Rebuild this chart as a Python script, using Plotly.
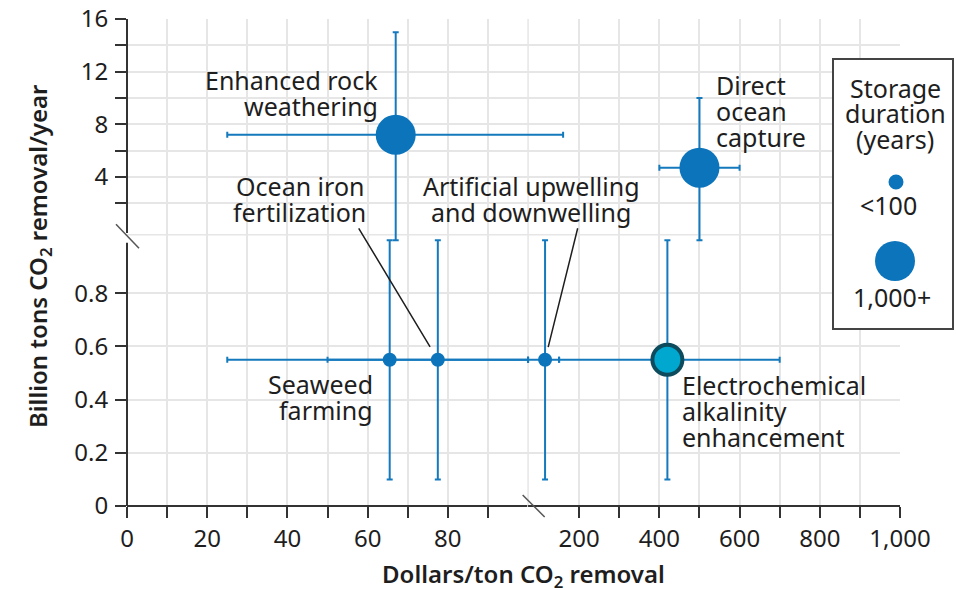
import plotly.graph_objects as go

# ---------------- data ----------------
methods = [
    "Enhanced rock weathering",
    "Direct ocean capture",
    "Seaweed farming",
    "Ocean iron fertilization",
    "Artificial upwelling and downwelling",
    "Electrochemical alkalinity enhancement",
]
cost = [67, 500, 65.5, 77.5, 115, 420]            # dollars / ton CO2
cost_low = [25, 400, 25, 50, 100, 150]
cost_high = [160, 600, 100, 100, 150, 700]
removal = [7.2, 4.7, 0.55, 0.55, 0.55, 0.55]      # billion tons CO2 / year
removal_low = [1.0, 1.0, 0.1, 0.1, 0.1, 0.1]
removal_high = [15, 10, 1.0, 1.0, 1.0, 1.0]
storage = ["1,000+", "1,000+", "<100", "<100", "<100", "1,000+"]

x_major = [0, 20, 40, 60, 80, 200, 400, 600, 800, 1000]
x_major_text = ["0", "20", "40", "60", "80", "200", "400", "600", "800", "1,000"]
x_minor = [10, 30, 50, 70, 90, 300, 500, 700, 900]
y_major = [0, 0.2, 0.4, 0.6, 0.8, 4, 8, 12, 16]
y_major_text = ["0", "0.2", "0.4", "0.6", "0.8", "4", "8", "12", "16"]
y_minor = [2, 6, 10, 14]

# ---------------- broken-axis scales ----------------
X_BREAK, X_GAP, X_FAR = 100, 2.74, 0.1
Y_BREAK, Y_OFF, Y_FAR = 1.0, 1.040, 0.04949


def xmap(v):
    return v if v <= X_BREAK else X_BREAK + X_GAP + (v - X_BREAK) * X_FAR


def ymap(v):
    return v if v <= Y_BREAK else Y_OFF + v * Y_FAR


X_MAX = xmap(1000)
Y_MAX = ymap(16)

# ---------------- styling ----------------
FONT = "Noto Sans"
TXT = "#1e1e1e"
BLUE = "#0b74bb"
BAR = "#1479bd"
HILITE_FILL = "#00a7cf"
HILITE_LINE = "#0e4b5c"
AXIS = "#333333"
GRID = "#e6e6e6"
size_by_storage = {"<100": 14, "1,000+": 40}
highlight = "Electrochemical alkalinity enhancement"

L, R, T, B = 127, 56, 19, 84
W, H = 956, 590
PW, PH = W - L - R, H - T - B


def px(x):
    return (x - L) / PW


def py(y):
    return (H - B - y) / PH


def dx2paper(d):
    return d / X_MAX


def dy2paper(d):
    return d / Y_MAX


fig = go.Figure()

xs = [xmap(c) for c in cost]
ys = [ymap(r) for r in removal]

# error bars (drawn first so every dot sits on top)
fig.add_trace(go.Scatter(
    x=xs, y=ys, mode="markers",
    marker=dict(size=1, color="rgba(0,0,0,0)"),
    error_x=dict(type="data", symmetric=False,
                 array=[xmap(h) - xmap(c) for h, c in zip(cost_high, cost)],
                 arrayminus=[xmap(c) - xmap(l) for c, l in zip(cost, cost_low)],
                 color=BAR, thickness=2, width=3),
    error_y=dict(type="data", symmetric=False,
                 array=[ymap(h) - ymap(r) for h, r in zip(removal_high, removal)],
                 arrayminus=[ymap(r) - ymap(l) for r, l in zip(removal, removal_low)],
                 color=BAR, thickness=2, width=3),
    hoverinfo="skip", showlegend=False,
))

idx_main = [i for i, m in enumerate(methods) if m != highlight]
idx_hi = [i for i, m in enumerate(methods) if m == highlight]

fig.add_trace(go.Scatter(
    x=[xs[i] for i in idx_main], y=[ys[i] for i in idx_main],
    mode="markers", text=[methods[i] for i in idx_main],
    marker=dict(size=[size_by_storage[storage[i]] for i in idx_main],
                color=BLUE, opacity=1, line=dict(width=0)),
    showlegend=False,
))
fig.add_trace(go.Scatter(
    x=[xs[i] for i in idx_hi], y=[ys[i] for i in idx_hi],
    mode="markers", text=[methods[i] for i in idx_hi],
    marker=dict(size=30, color=HILITE_FILL, opacity=1,
                line=dict(width=4, color=HILITE_LINE)),
    showlegend=False,
))

# ---------------- point labels ----------------
label_lines = {
    0: (["Enhanced rock", "weathering"], "right", -16, [55, 29]),
    1: (["Direct", "ocean", "capture"], "left", 15, [83, 57, 31]),
    2: (["Seaweed", "farming"], "right", -15, [-24, -50]),
    3: (["Ocean iron", "fertilization"], "center", -138, [174, 148]),
    4: (["Artificial upwelling", "and downwelling"], "center", -14, [174, 148]),
    5: (["Electrochemical", "alkalinity", "enhancement"], "left", 13, [-25, -51, -77]),
}
LABEL_SIZE = 25
annotations = []
for i, (lines, anchor, dx, dys) in label_lines.items():
    for line, dy in zip(lines, dys):
        annotations.append(dict(
            x=xs[i], y=ys[i], xref="x", yref="y", text=line, showarrow=False,
            xanchor=anchor, yanchor="middle", xshift=dx, yshift=dy,
            font=dict(family=FONT, size=LABEL_SIZE, color=TXT),
        ))

# leader lines from labels to their points
for i, ax, ay, so in [(3, -80, -133, 15), (4, 33, -133, 13)]:
    annotations.append(dict(
        x=xs[i], y=ys[i], xref="x", yref="y", text="", showarrow=True,
        arrowhead=0, arrowwidth=1.5, arrowcolor=TXT, ax=ax, ay=ay, standoff=so,
    ))

# axis titles
annotations.append(dict(
    x=px(523), y=py(575), xref="paper", yref="paper", showarrow=False,
    text="Dollars/ton CO<sub>2</sub> removal", xanchor="center", yanchor="middle",
    font=dict(family=FONT, size=24, color=TXT, weight=600),
))
annotations.append(dict(
    x=px(39), y=py(256), xref="paper", yref="paper", showarrow=False,
    text="Billion tons CO<sub>2</sub> removal/year", textangle=-90,
    xanchor="center", yanchor="middle",
    font=dict(family=FONT, size=24, color=TXT, weight=600),
))

# legend text
for txt, cx, cy in [("Storage", 895, 88), ("duration", 895, 113), ("(years)", 895, 139),
                    ("<100", 888, 205), ("1,000+", 892, 297)]:
    annotations.append(dict(
        x=px(cx), y=py(cy), xref="paper", yref="paper", text=txt, showarrow=False,
        xanchor="center", yanchor="middle",
        font=dict(family=FONT, size=LABEL_SIZE, color=TXT),
    ))

# ---------------- shapes: axis lines, breaks, extra grid, legend ----------------
axis_line = dict(color=AXIS, width=2)
brk_line = dict(color="#555555", width=1.5)
shapes = [
    # extra grid lines at the breaks
    dict(type="line", xref="x", yref="y", x0=xmap(100), x1=xmap(100), y0=0, y1=Y_MAX,
         line=dict(color=GRID, width=1.5), layer="below"),
    dict(type="line", xref="x", yref="y", x0=0, x1=X_MAX,
         y0=(Y_BREAK + Y_OFF) / 2, y1=(Y_BREAK + Y_OFF) / 2,
         line=dict(color=GRID, width=1.5), layer="below"),
    # y axis, two pieces
    dict(type="line", xref="paper", yref="paper", x0=0, x1=0,
         y0=0, y1=dy2paper(0.99), line=axis_line),
    dict(type="line", xref="paper", yref="paper", x0=0, x1=0,
         y0=dy2paper(1.027), y1=1, line=axis_line),
    # x axis, two pieces
    dict(type="line", xref="paper", yref="paper", x0=0, x1=dx2paper(99.8),
         y0=0, y1=0, line=axis_line),
    dict(type="line", xref="paper", yref="paper", x0=dx2paper(xmap(100)), x1=1,
         y0=0, y1=0, line=axis_line),
    # break marks
    dict(type="line", xref="paper", yref="paper", xsizemode="pixel", ysizemode="pixel",
         xanchor=0, yanchor=dy2paper(1.015), x0=-11, x1=12, y0=12, y1=-12,
         line=brk_line),
    dict(type="line", xref="paper", yref="paper", xsizemode="pixel", ysizemode="pixel",
         xanchor=dx2paper(101.4), yanchor=0, x0=-11, x1=11, y0=11, y1=-11,
         line=brk_line),
    # legend box
    dict(type="rect", xref="paper", yref="paper", x0=px(833), x1=px(953),
         y0=py(329), y1=py(59), fillcolor="white",
         line=dict(color="#444444", width=2), layer="above"),
    dict(type="circle", xref="paper", yref="paper", xsizemode="pixel", ysizemode="pixel",
         xanchor=px(896), yanchor=py(182), x0=-7.5, x1=7.5, y0=-7.5, y1=7.5,
         fillcolor=BLUE, line=dict(width=0)),
    dict(type="circle", xref="paper", yref="paper", xsizemode="pixel", ysizemode="pixel",
         xanchor=px(895), yanchor=py(261), x0=-20, x1=20, y0=-20, y1=20,
         fillcolor=BLUE, line=dict(width=0)),
]

tick_font = dict(family=FONT, size=24, color=TXT)

fig.update_layout(
    width=W, height=H,
    margin=dict(l=L, r=R, t=T, b=B, autoexpand=False),
    paper_bgcolor="white", plot_bgcolor="white",
    showlegend=False,
    xaxis=dict(
        range=[0, X_MAX], automargin=False,
        tickvals=[xmap(v) for v in x_major + x_minor],
        ticktext=x_major_text + [""] * len(x_minor),
        ticks="outside", ticklen=11, tickwidth=2, tickcolor=AXIS,
        showgrid=True, gridcolor=GRID, gridwidth=1.5,
        showline=False, zeroline=False, tickfont=tick_font, ticklabelstandoff=0,
        fixedrange=True,
    ),
    yaxis=dict(
        range=[0, Y_MAX], automargin=False,
        tickvals=[ymap(v) for v in y_major + y_minor],
        ticktext=y_major_text + [""] * len(y_minor),
        ticks="outside", ticklen=11, tickwidth=2, tickcolor=AXIS,
        showgrid=True, gridcolor=GRID, gridwidth=1.5,
        showline=False, zeroline=False, tickfont=tick_font, ticklabelstandoff=2,
        fixedrange=True,
    ),
    annotations=annotations,
    shapes=shapes,
)

fig.write_html("out.html")
